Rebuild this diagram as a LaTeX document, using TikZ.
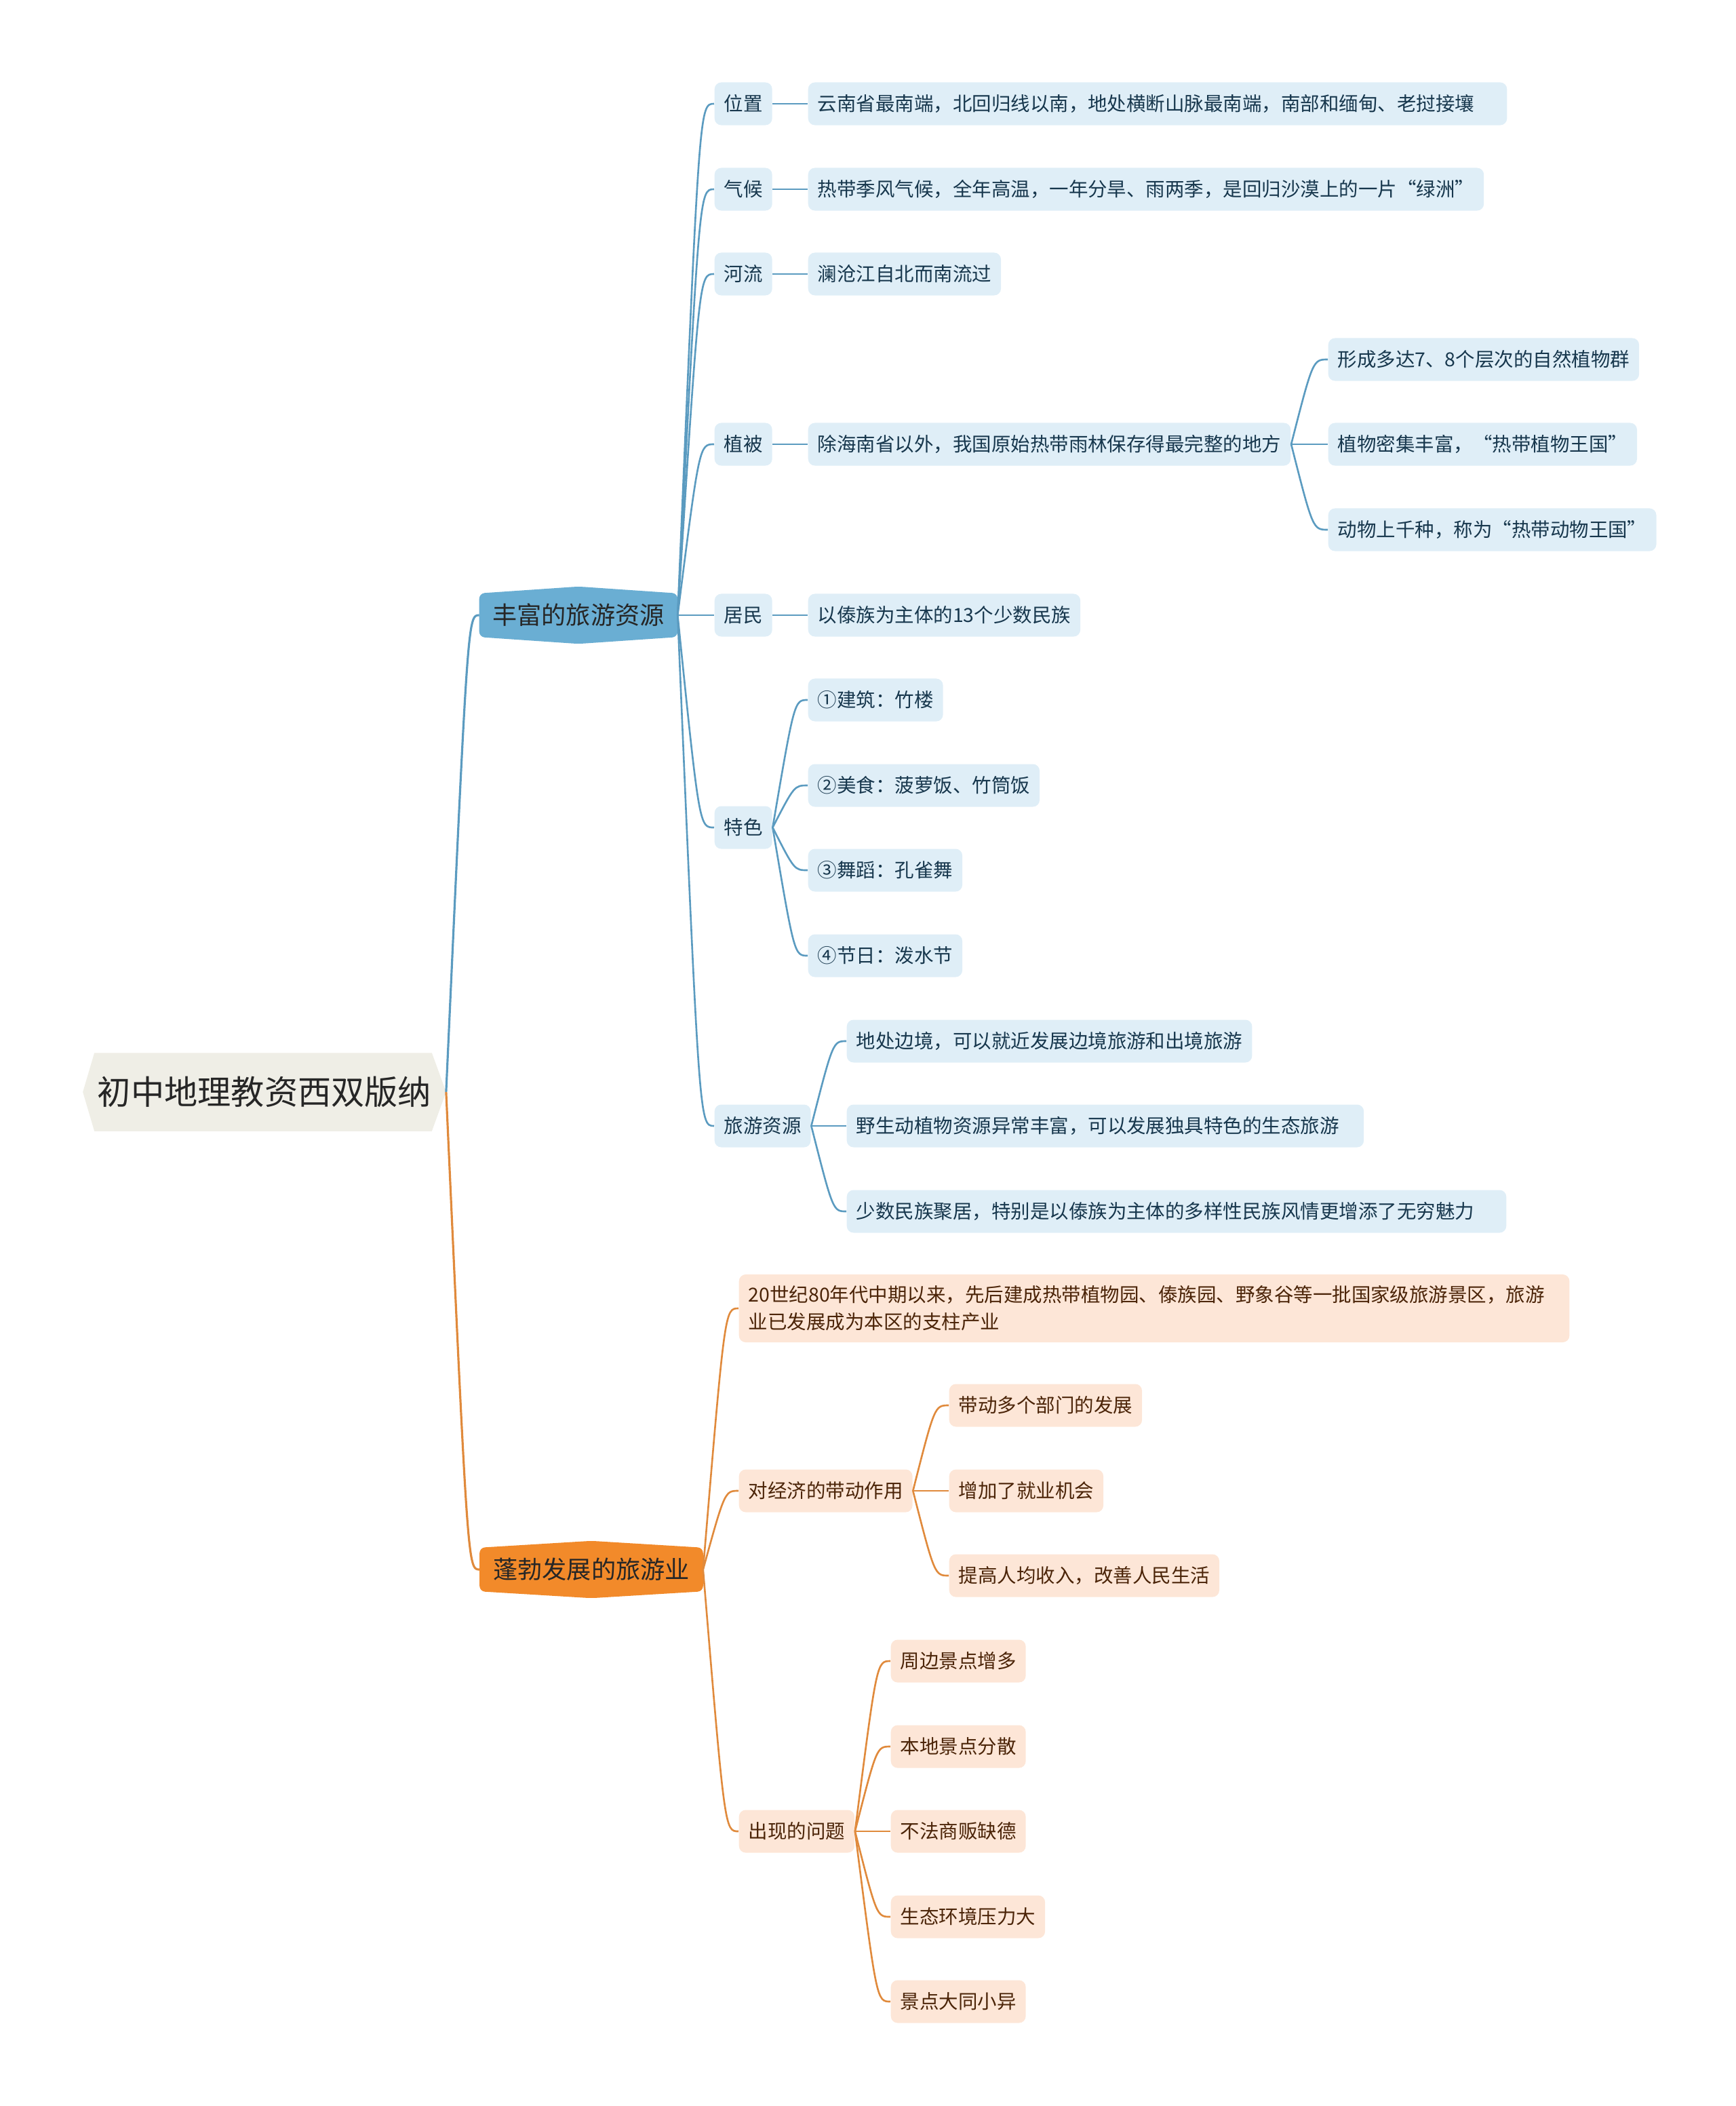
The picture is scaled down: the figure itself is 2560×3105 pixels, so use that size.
\documentclass[tikz,border=0pt]{standalone}
\usepackage{fontspec}
\newfontfamily\cjk{Noto Sans CJK SC}
\usetikzlibrary{backgrounds}
\definecolor{rootfill}{HTML}{EFEEE6}
\definecolor{bmain}{HTML}{6AAED3}
\definecolor{bleaf}{HTML}{DFEEF7}
\definecolor{bline}{HTML}{5B9BC0}
\definecolor{btext}{HTML}{17374D}
\definecolor{omain}{HTML}{F28A2A}
\definecolor{oleaf}{HTML}{FDE6D7}
\definecolor{oline}{HTML}{E08A3C}
\definecolor{otext}{HTML}{4B2408}

\begin{document}
\begin{tikzpicture}[x=0.01cm, y=-0.01cm,
        twig/.style={to path={.. controls ([xshift=0.32cm]\tikztostart |- \tikztotarget) .. (\tikztotarget)}},
        topic/.style={font=\cjk\fontsize{8.1}{11.4}\selectfont, inner xsep=0.14cm,
                      inner ysep=0pt, minimum height=0.63cm, rounded corners=0.1cm, anchor=west},
        btopic/.style={topic, fill=bleaf, text=btext},
        otopic/.style={topic, fill=oleaf, text=otext},
        mainnode/.style={inner sep=0pt, minimum height=0.63cm},
        blink/.style={draw=bline, line width=0.75pt},
        olink/.style={draw=oline, line width=0.75pt}
    ]
    \useasboundingbox (0,0) rectangle (2560,3105);

    % Central topic
    \node[inner sep=0pt, minimum width=5.34cm, minimum height=1.14cm,
          font=\cjk\fontsize{14}{17}\selectfont, text=black!85] (root) at (390,1610) {初中地理教资西双版纳};
    \node[mainnode, minimum width=2.91cm, font=\cjk\fontsize{10.3}{12}\selectfont, text=black!85]
        (res) at (853,907) {丰富的旅游资源};
    \node[mainnode, minimum width=3.28cm, font=\cjk\fontsize{10.3}{12}\selectfont, text=black!85]
        (dev) at (872,2314) {蓬勃发展的旅游业};

    \begin{scope}[on background layer]
        \fill[rootfill] (root.west) -- ([xshift=0.17cm]root.north west) -- ([xshift=-0.21cm]root.north east)
            -- (root.east) -- ([xshift=-0.21cm]root.south east) -- ([xshift=0.17cm]root.south west) -- cycle;
        \fill[bmain, rounded corners=0.08cm] (res.north west) -- ([yshift=0.1cm]res.north) -- (res.north east)
            -- (res.south east) -- ([yshift=-0.1cm]res.south) -- (res.south west) -- cycle;
        \fill[omain, rounded corners=0.08cm] (dev.north west) -- ([yshift=0.1cm]dev.north) -- (dev.north east)
            -- (dev.south east) -- ([yshift=-0.1cm]dev.south) -- (dev.south west) -- cycle;
    \end{scope}

    % ---- 丰富的旅游资源 ----
    \node[btopic] (loc)   at (1053,153)  {位置};
    \node[btopic] (clim)  at (1053,279)  {气候};
    \node[btopic] (river) at (1053,404)  {河流};
    \node[btopic] (veg)   at (1053,655)  {植被};
    \node[btopic] (ppl)   at (1053,907)  {居民};
    \node[btopic] (feat)  at (1053,1220) {特色};
    \node[btopic] (tour)  at (1053,1660) {旅游资源};

    \node[btopic, text width=10.02cm, align=left] (locT) at (1191,153) {云南省最南端，北回归线以南，地处横断山脉最南端，南部和缅甸、老挝接壤};
    \node[btopic] (climT)  at (1191,279) {热带季风气候，全年高温，一年分旱、雨两季，是回归沙漠上的一片“绿洲”};
    \node[btopic] (riverT) at (1191,404) {澜沧江自北而南流过};
    \node[btopic] (vegT)   at (1191,655) {除海南省以外，我国原始热带雨林保存得最完整的地方};
    \node[btopic] (vegA)   at (1958,530) {形成多达7、8个层次的自然植物群};
    \node[btopic] (vegB)   at (1958,655) {植物密集丰富，“热带植物王国”};
    \node[btopic] (vegC)   at (1958,781) {动物上千种，称为“热带动物王国”};
    \node[btopic] (pplT)   at (1191,907) {以傣族为主体的13个少数民族};
    \node[btopic] (featA)  at (1191,1032) {①建筑：竹楼};
    \node[btopic] (featB)  at (1191,1158) {②美食：菠萝饭、竹筒饭};
    \node[btopic] (featC)  at (1191,1283) {③舞蹈：孔雀舞};
    \node[btopic] (featD)  at (1191,1409) {④节日：泼水节};
    \node[btopic] (tourA)  at (1248,1535) {地处边境，可以就近发展边境旅游和出境旅游};
    \node[btopic, text width=7.34cm, align=left] (tourB) at (1248,1660) {野生动植物资源异常丰富，可以发展独具特色的生态旅游};
    \node[btopic, text width=9.44cm, align=left] (tourC) at (1248,1786) {少数民族聚居，特别是以傣族为主体的多样性民族风情更增添了无穷魅力};

    % ---- 蓬勃发展的旅游业 ----
    \node[otopic, text width=11.96cm, align=left, minimum height=1cm] (hist) at (1089,1929)
        {20世纪80年代中期以来，先后建成热带植物园、傣族园、野象谷等一批国家级旅游景区，旅游\\业已发展成为本区的支柱产业};
    \node[otopic] (econ)  at (1089,2198) {对经济的带动作用};
    \node[otopic] (econA) at (1399,2072) {带动多个部门的发展};
    \node[otopic] (econB) at (1399,2198) {增加了就业机会};
    \node[otopic] (econC) at (1399,2323) {提高人均收入，改善人民生活};
    \node[otopic] (prob)  at (1089,2700) {出现的问题};
    \node[otopic] (probA) at (1313,2449) {周边景点增多};
    \node[otopic] (probB) at (1313,2575) {本地景点分散};
    \node[otopic] (probC) at (1313,2700) {不法商贩缺德};
    \node[otopic] (probD) at (1313,2826) {生态环境压力大};
    \node[otopic] (probE) at (1313,2951) {景点大同小异};

    % connectors
    \draw[blink, line width=0.9pt] (root.east) to[twig] (res.west);
    \draw[olink, line width=0.9pt] (root.east) to[twig] (dev.west);

    \draw[blink] (res.east) to[twig] (loc.west);
    \draw[blink] (res.east) to[twig] (clim.west);
    \draw[blink] (res.east) to[twig] (river.west);
    \draw[blink] (res.east) to[twig] (veg.west);
    \draw[blink] (res.east) to[twig] (ppl.west);
    \draw[blink] (res.east) to[twig] (feat.west);
    \draw[blink] (res.east) to[twig] (tour.west);
    \draw[blink] (loc.east) to[twig] (locT.west);
    \draw[blink] (clim.east) to[twig] (climT.west);
    \draw[blink] (river.east) to[twig] (riverT.west);
    \draw[blink] (veg.east) to[twig] (vegT.west);
    \draw[blink] (vegT.east) to[twig] (vegA.west);
    \draw[blink] (vegT.east) to[twig] (vegB.west);
    \draw[blink] (vegT.east) to[twig] (vegC.west);
    \draw[blink] (ppl.east) to[twig] (pplT.west);
    \draw[blink] (feat.east) to[twig] (featA.west);
    \draw[blink] (feat.east) to[twig] (featB.west);
    \draw[blink] (feat.east) to[twig] (featC.west);
    \draw[blink] (feat.east) to[twig] (featD.west);
    \draw[blink] (tour.east) to[twig] (tourA.west);
    \draw[blink] (tour.east) to[twig] (tourB.west);
    \draw[blink] (tour.east) to[twig] (tourC.west);

    \draw[olink] (dev.east) to[twig] (hist.west);
    \draw[olink] (dev.east) to[twig] (econ.west);
    \draw[olink] (dev.east) to[twig] (prob.west);
    \draw[olink] (econ.east) to[twig] (econA.west);
    \draw[olink] (econ.east) to[twig] (econB.west);
    \draw[olink] (econ.east) to[twig] (econC.west);
    \draw[olink] (prob.east) to[twig] (probA.west);
    \draw[olink] (prob.east) to[twig] (probB.west);
    \draw[olink] (prob.east) to[twig] (probC.west);
    \draw[olink] (prob.east) to[twig] (probD.west);
    \draw[olink] (prob.east) to[twig] (probE.west);
\end{tikzpicture}
\end{document}
